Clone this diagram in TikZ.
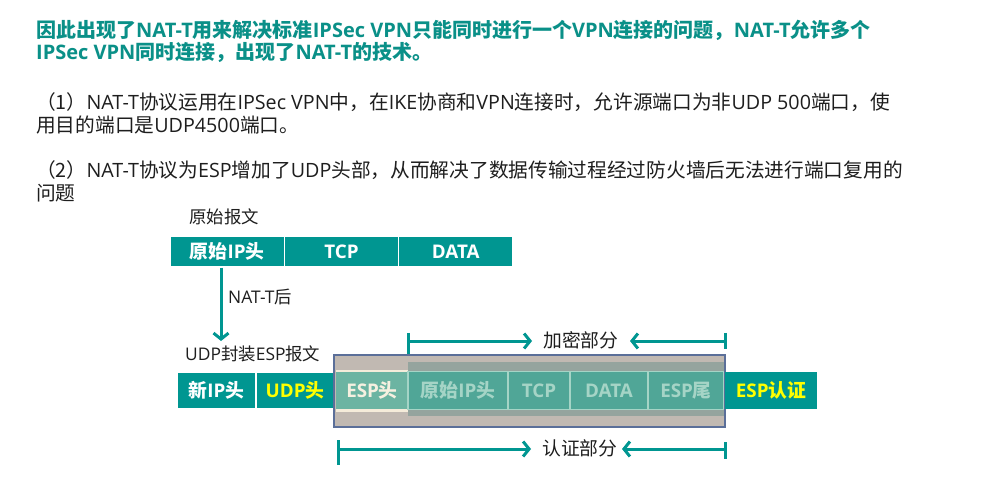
\documentclass[tikz,border=0pt]{standalone}
\usepackage{fontspec}
\setmainfont{Noto Sans CJK SC}
\newfontfamily\latf{Open Sans}
\newcommand{\lat}[1]{{\latf #1}}
\usetikzlibrary{arrows.meta}
\definecolor{tealc}{RGB}{0,150,145}
\definecolor{titlec}{RGB}{10,144,136}
\definecolor{yel}{RGB}{255,255,0}
\definecolor{greyb}{RGB}{193,185,178}
\definecolor{rectb}{RGB}{91,111,153}
\definecolor{creamc}{RGB}{245,236,218}
\definecolor{espc}{RGB}{108,180,162}
\definecolor{espt}{RGB}{246,240,224}
\definecolor{ovc}{RGB}{149,164,158}
\definecolor{encc}{RGB}{80,166,151}
\definecolor{encl}{RGB}{165,212,198}
\definecolor{bodyc}{RGB}{30,30,30}
\newcommand{\fsz}[1]{\fontsize{#1}{#1}\selectfont}
\tikzset{
  titletext/.style={anchor=west, inner sep=0pt, text=titlec, font=\bfseries\fsz{20}},
  bodytext/.style={anchor=west, inner sep=0pt, text=bodyc, font=\fsz{19.7}},
  labeltext/.style={anchor=west, inner sep=0pt, text=bodyc, font=\fsz{17.4}},
  rangetext/.style={anchor=west, inner sep=0pt, text=bodyc, font=\fsz{18.8}},
  cell/.style={draw=white, line width=1.5pt, fill=tealc, text=white, font=\bfseries\fsz{18.8}, inner sep=0pt},
  enccell/.style={draw=encl, line width=1.5pt, fill=encc, text=encl, font=\bfseries\fsz{18.8}, inner sep=0pt},
  conn/.style={draw=tealc, line width=3pt, -{Straight Barb[length=6pt,width=15pt]}},
  tick/.style={draw=tealc, line width=3pt},
}
\begin{document}
\begin{tikzpicture}[x=1pt,y=-1pt]
\path[use as bounding box, fill=white] (0,0) rectangle (996,478);

% title
\node[titletext] (t1) at (36,30) {因此出现了\lat{NAT-T}用来解决标准\lat{IPSec VPN}只能同时进行一个\lat{VPN}连接的问题，\lat{NAT-T}允许多个};
\node[titletext] (t2) at (36,52) {\lat{IPSec VPN}同时连接，出现了\lat{NAT-T}的技术。};

% paragraphs
\node[bodytext] (p1a) at (36,102) {（1）\lat{NAT-T}协议运用在\lat{IPSec VPN}中，在\lat{IKE}协商和\lat{VPN}连接时，允许源端口为非\lat{UDP 500}端口，使};
\node[bodytext] (p1b) at (36,125) {用目的端口是\lat{UDP4500}端口。};
\node[bodytext] (p2a) at (36,170) {（2）\lat{NAT-T}协议为\lat{ESP}增加了\lat{UDP}头部，从而解决了数据传输过程经过防火墙后无法进行端口复用的};
\node[bodytext] (p2b) at (36,193) {问题};

% original packet
\node[labeltext] (orig) at (189,217) {原始报文};
\node[cell, minimum width=114.3pt, minimum height=31pt] (oip) at (227.2,251.5) {原始\lat{IP}头};
\node[cell, minimum width=114.3pt, minimum height=31pt] (otcp) at (341.5,251.5) {\lat{TCP}};
\node[cell, minimum width=114.3pt, minimum height=31pt] (odata) at (455.8,251.5) {\lat{DATA}};

\coordinate (downend) at (221,341);
\draw[conn] (oip.south -| downend) -- (downend);
\node[labeltext] (natt) at (228,297) {\lat{NAT-T}后};
\node[labeltext] (udpesp) at (185,354) {\lat{UDP}封装\lat{ESP}报文};

% new packet
\node[cell, minimum width=79pt, minimum height=37pt] (nip) at (216.5,390.5) {新\lat{IP}头};
\node[cell, minimum width=78pt, minimum height=37pt, text=yel] (udp) at (295,390.5) {\lat{UDP}头};

\path[fill=greyb, draw=rectb, line width=1.5pt] (334,355) rectangle (725,427);
\path[fill=creamc] (336,369.5) rectangle (723.5,412);
\node[cell, draw=none, fill=espc, text=espt, minimum width=72pt, minimum height=37pt] (esph) at (372,390.5) {\lat{ESP}头};
\path[fill=ovc] (408,362) rectangle (723.5,416);
\node[enccell, minimum width=100pt, minimum height=38pt] (eip) at (458,390.5) {原始\lat{IP}头};
\node[enccell, minimum width=62pt, minimum height=38pt] (etcp) at (539,390.5) {\lat{TCP}};
\node[enccell, minimum width=78pt, minimum height=38pt] (edata) at (609,390.5) {\lat{DATA}};
\node[enccell, minimum width=76pt, minimum height=38pt] (etrl) at (686,390.5) {\lat{ESP}尾};
\path[draw=rectb, line width=1.5pt] (334,355) rectangle (725,427);
\node[cell, draw=none, text=yel, minimum width=92pt, minimum height=37pt] (eauth) at (771,390.5) {\lat{ESP}认证};

% encryption range
\node[rangetext] (enc) at (543,340) {加密部分};
\coordinate (encLt) at (408,333);
\coordinate (encLb) at (408,354);
\coordinate (encL) at (408,341);
\coordinate (encRt) at (725,333);
\coordinate (encRb) at (725,349);
\coordinate (encR) at (725,341);
\draw[tick] (encLt) -- (encLb);
\draw[tick] (encRt) -- (encRb);
\draw[conn] (encL) -- (532,341);
\draw[conn] (encR) -- (630,341);

% authentication range
\node[rangetext] (auth) at (542,448) {认证部分};
\coordinate (auLt) at (338,440);
\coordinate (auLb) at (338,465);
\coordinate (auL) at (338,449);
\coordinate (auRt) at (725,442);
\coordinate (auRb) at (725,459);
\coordinate (auR) at (725,449);
\draw[tick] (auLt) -- (auLb);
\draw[tick] (auRt) -- (auRb);
\draw[conn] (auL) -- (531,449);
\draw[conn] (auR) -- (622,449);
\end{tikzpicture}
\end{document}
